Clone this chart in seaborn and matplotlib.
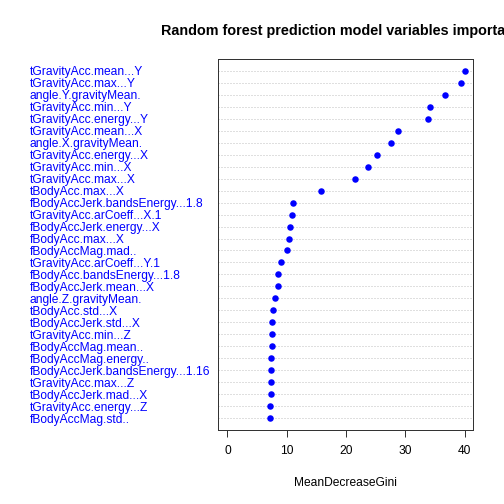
import matplotlib
matplotlib.use("Agg")
import matplotlib.pyplot as plt
import seaborn as sns
import pandas as pd

variables = [
    "tGravityAcc.mean...Y", "tGravityAcc.max...Y", "angle.Y.gravityMean.",
    "tGravityAcc.min...Y", "tGravityAcc.energy...Y", "tGravityAcc.mean...X",
    "angle.X.gravityMean.", "tGravityAcc.energy...X", "tGravityAcc.min...X",
    "tGravityAcc.max...X", "tBodyAcc.max...X", "fBodyAccJerk.bandsEnergy...1.8",
    "tGravityAcc.arCoeff...X.1", "fBodyAccJerk.energy...X", "fBodyAcc.max...X",
    "fBodyAccMag.mad..", "tGravityAcc.arCoeff...Y.1", "fBodyAcc.bandsEnergy...1.8",
    "fBodyAccJerk.mean...X", "angle.Z.gravityMean.", "tBodyAcc.std...X",
    "tBodyAccJerk.std...X", "tGravityAcc.min...Z", "fBodyAccMag.mean..",
    "fBodyAccMag.energy..", "fBodyAccJerk.bandsEnergy...1.16", "tGravityAcc.max...Z",
    "tBodyAccJerk.mad...X", "tGravityAcc.energy...Z", "fBodyAccMag.std..",
]
gini = [
    40.0, 39.4, 36.6, 34.2, 33.8, 28.8, 27.5, 25.2, 23.7, 21.5,
    15.8, 11.0, 10.95, 10.6, 10.3, 10.1, 9.1, 8.6, 8.45, 7.95,
    7.7, 7.55, 7.55, 7.5, 7.4, 7.4, 7.4, 7.3, 7.25, 7.2,
]

df = pd.DataFrame({"variable": variables, "MeanDecreaseGini": gini})

plt.rcParams["font.family"] = ["Liberation Sans", "DejaVu Sans"]

fig = plt.figure(figsize=(7, 7), dpi=72)
ax = fig.add_axes([218 / 504, 1 - 430 / 504, 255 / 504, 371 / 504])

sns.stripplot(data=df, x="MeanDecreaseGini", y="variable", order=variables,
              jitter=False, color="blue", size=6.5, linewidth=0, ax=ax, zorder=3)

# dotted guide lines like R's dotchart
ax.grid(False)
ax.grid(True, axis="y", linestyle=(0, (1, 2)), color="#c0c0c0", linewidth=1)
ax.set_axisbelow(True)

ax.set_xlim(-1.6, 41.4)
ax.set_ylim(len(variables), -1)
ax.set_xticks([0, 10, 20, 30, 40])
ax.tick_params(axis="x", length=7, width=1, color="#333333", labelsize=12, pad=8)
ax.tick_params(axis="y", length=0, labelsize=12, labelcolor="blue", pad=188)
for lab in ax.get_yticklabels():
    lab.set_horizontalalignment("left")
for s in ax.spines.values():
    s.set_color("#333333")
    s.set_linewidth(1)

ax.set_ylabel("")
ax.set_xlabel("MeanDecreaseGini", fontsize=12, labelpad=20)
ax.set_title("Random forest prediction model variables importance",
             fontsize=14.4, fontweight="bold", pad=24)

fig.savefig("out.png", dpi=72)
